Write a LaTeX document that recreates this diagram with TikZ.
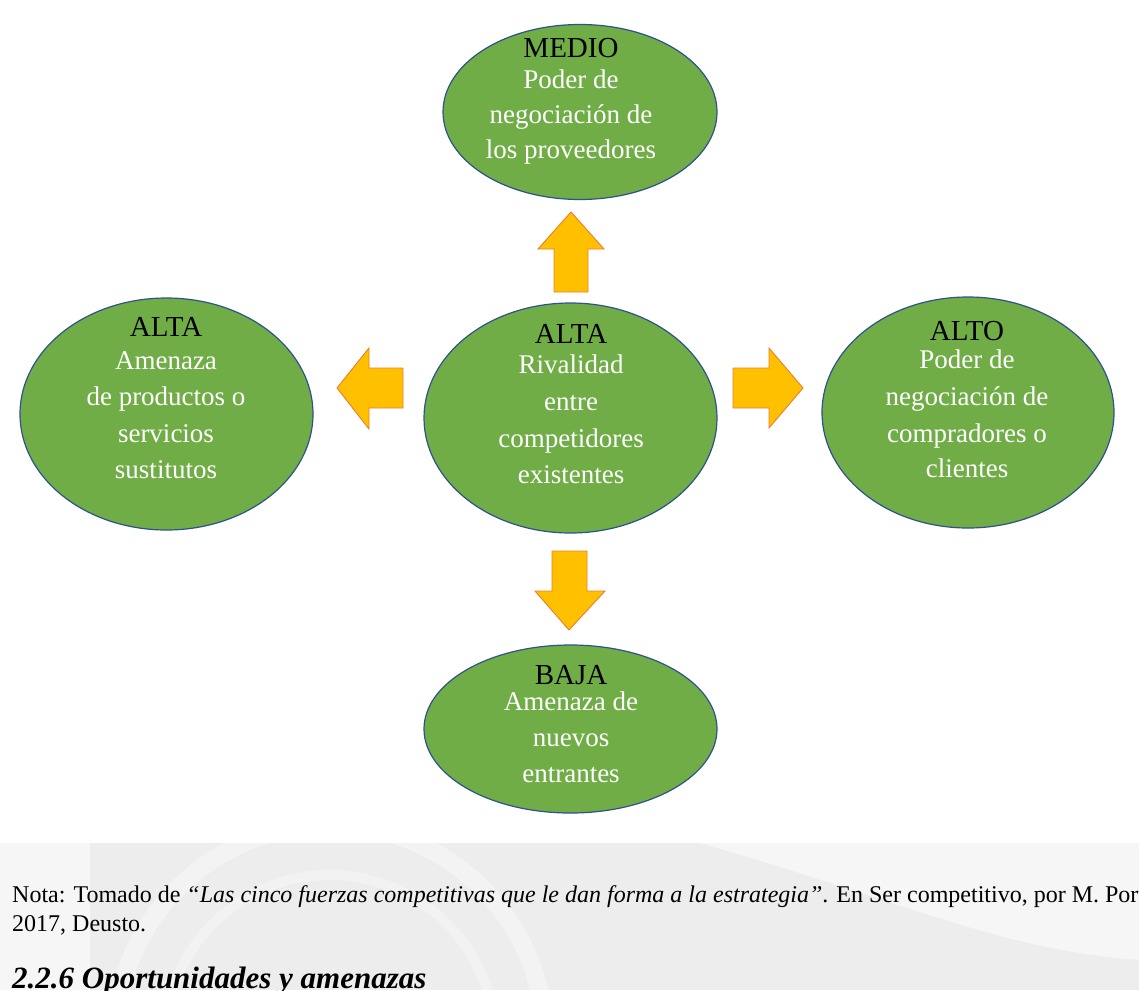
\documentclass[tikz,border=0pt]{standalone}
\usepackage{fontspec}
\setmainfont{Liberation Serif}
\usetikzlibrary{shapes.geometric}
\definecolor{forcegreen}{HTML}{70AD47}
\definecolor{forceedge}{HTML}{2F528F}
\definecolor{arrowfill}{HTML}{FFC000}
\definecolor{arrowedge}{HTML}{ED7D31}
\definecolor{pagegray}{HTML}{EDEDED}

\begin{document}
\begin{tikzpicture}[x=1pt,y=-1pt,
  force/.style={ellipse, draw=forceedge, line width=1.2pt, fill=forcegreen, inner sep=0pt},
  blockarrow/.style={fill=arrowfill, draw=arrowedge, line width=0.9pt, line join=miter},
  hd/.style={anchor=base, inner sep=0pt, font=\fontsize{29}{29}\selectfont, text=black},
  bd/.style={anchor=base, inner sep=0pt, font=\fontsize{27}{27}\selectfont, text=white},
  notetext/.style={anchor=base west, inner sep=0pt, font=\fontsize{24}{24}\selectfont, text=black},
]
\useasboundingbox (0,0) rectangle (1139,990);
\fill[white] (0,0) rectangle (1139,990);

% page area below the figure, with a faint watermark
\fill[pagegray] (0,843) rectangle (1139,990);
\fill[white, opacity=0.55] (0,843) rectangle (90,990);
\draw[white, line width=18pt, opacity=0.35] (330,1040) circle[radius=215];
\draw[white, line width=10pt, opacity=0.3] (330,1040) circle[radius=165];
\fill[white, opacity=0.5] (700,843) .. controls (900,900) and (1000,950) .. (1139,960) -- (1139,843) -- cycle;
\fill[gray!14] (619,843) rectangle (627,990);

% the five forces
\node[force, minimum width=274pt, minimum height=175pt] (prov) at (580,112) {};
\node[force, minimum width=293pt, minimum height=230pt] (riv)  at (570.5,418) {};
\node[force, minimum width=293pt, minimum height=232pt] (sust) at (166.5,414) {};
\node[force, minimum width=292pt, minimum height=231pt] (comp) at (968,412.5) {};
\node[force, minimum width=293pt, minimum height=168pt] (entr) at (570.5,729) {};

% supplier power
\node[hd] (prov-h) at (571,57)  {MEDIO};
\node[bd] (prov-1) at (571,88)  {Poder de};
\node[bd] (prov-2) at (571,123) {negociación de};
\node[bd] (prov-3) at (571,158) {los proveedores};

% rivalry
\node[hd] (riv-h) at (571,343) {ALTA};
\node[bd] (riv-1) at (571,373) {Rivalidad};
\node[bd] (riv-2) at (571,410) {entre};
\node[bd] (riv-3) at (571,447) {competidores};
\node[bd] (riv-4) at (571,483) {existentes};

% substitutes
\node[hd] (sust-h) at (166,336) {ALTA};
\node[bd] (sust-1) at (166,369) {Amenaza};
\node[bd] (sust-2) at (166,405) {de productos o};
\node[bd] (sust-3) at (166,442) {servicios};
\node[bd] (sust-4) at (166,478) {sustitutos};

% buyer power
\node[hd] (comp-h) at (967,340) {ALTO};
\node[bd] (comp-1) at (967,368) {Poder de};
\node[bd] (comp-2) at (967,405) {negociación de};
\node[bd] (comp-3) at (967,442) {compradores o};
\node[bd] (comp-4) at (967,477) {clientes};

% new entrants
\node[hd] (entr-h) at (571,684) {BAJA};
\node[bd] (entr-1) at (571,710) {Amenaza de};
\node[bd] (entr-2) at (571,746) {nuevos};
\node[bd] (entr-3) at (571,782) {entrantes};

% block arrows from the rivalry
\draw[blockarrow] (571,212) -- (604,249) -- (588,249) -- (588,292) -- (554,292) -- (554,249) -- (538,249) -- cycle;
\draw[blockarrow] (569,630) -- (605,591) -- (587,591) -- (587,551) -- (552,551) -- (552,591) -- (535,591) -- cycle;
\draw[blockarrow] (337,388) -- (369,348) -- (369,368) -- (403,368) -- (403,408) -- (369,408) -- (369,429) -- cycle;
\draw[blockarrow] (803,388) -- (769,348) -- (769,368) -- (733,368) -- (733,408) -- (769,408) -- (769,428) -- cycle;

% source note and next heading
\node[notetext] (nota) at (12,902) {Nota: Tomado de \textit{“Las cinco fuerzas competitivas que le dan forma a la estrategia”}. En Ser competitivo, por M. Port};
\node[notetext] (anio) at (12,931) {2017, Deusto.};
\node[anchor=base west, inner sep=0pt, font=\fontsize{31}{31}\selectfont\bfseries\itshape] (titulo) at (12,988) {2.2.6 Oportunidades y amenazas};
\end{tikzpicture}
\end{document}
